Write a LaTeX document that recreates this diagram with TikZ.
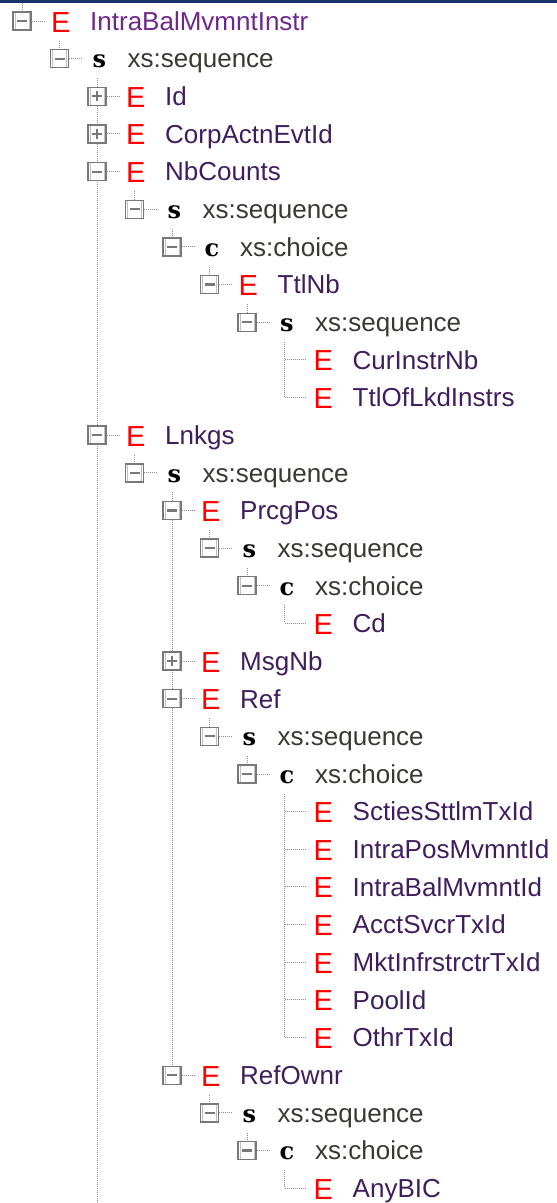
\documentclass[tikz,border=0pt]{standalone}
\usepackage{fontspec}
\setmainfont{Liberation Sans}
\newfontfamily\grpfont{DejaVu Serif}
\usetikzlibrary{calc,backgrounds}
\definecolor{elname}{RGB}{62,30,92}
\definecolor{rootname}{RGB}{110,40,140}
\definecolor{grpname}{RGB}{58,56,52}
\definecolor{boxgray}{RGB}{120,120,120}
\definecolor{dotgray}{RGB}{140,140,140}
\definecolor{topbar}{RGB}{30,50,110}
\tikzstyle{xbox}=[rectangle, draw=boxgray, line width=1.4pt, fill=white, minimum size=18pt, inner sep=0pt]
\tikzstyle{xminus}=[xbox, path picture={
  \draw[boxgray!45, line width=1pt] ([shift={(2,-2)}]path picture bounding box.north west) rectangle ([shift={(-2,2)}]path picture bounding box.south east);
  \draw[line width=2.2pt] (path picture bounding box.center) +(-5,0) -- +(5,0);}]
\tikzstyle{xplus}=[xbox, path picture={
  \draw[boxgray!45, line width=1pt] ([shift={(2,-2)}]path picture bounding box.north west) rectangle ([shift={(-2,2)}]path picture bounding box.south east);
  \draw[line width=2.2pt] (path picture bounding box.center) +(-5,0) -- +(5,0)
 (path picture bounding box.center) +(0,-5) -- +(0,5);}]
\tikzstyle{xleaf}=[rectangle, inner sep=0pt, minimum size=0pt]
\tikzstyle{ebadge}=[anchor=base west, inner sep=0pt, text=red, font=\fontsize{29}{29}\selectfont]
\tikzstyle{gbadge}=[anchor=base, inner sep=0pt, font=\grpfont\bfseries\fontsize{24}{24}\selectfont]
\tikzstyle{elabel}=[anchor=base west, inner sep=0pt, text=elname, font=\fontsize{26}{26}\selectfont]
\tikzstyle{rlabel}=[elabel, text=rootname]
\tikzstyle{glabel}=[elabel, text=grpname]
\tikzstyle{tline}=[draw=dotgray, line width=1pt, dash pattern=on 1pt off 1pt]
% element row: [label style] name, level, row, box style, label
\newcommand\elrow[6][elabel]{
            \node (#2) [#5] at ({22+37.5*#3},{21+37.65*#4}) {};
            \node (#2k) [ebadge] at ($(#2.center)+(29,11)$) {E};
            \node (#2t) [#1] at ($(#2.center)+(68,9.3)$) {#6};
            \draw[tline] (#2.east) -- ($(#2.center)+(22,0)$);
        }
% group row: name, level, row, letter, label
\newcommand\grprow[5]{
            \node (#1) [xminus] at ({22+37.5*#2},{21+37.65*#3}) {};
            \node (#1k) [gbadge] at ($(#1.center)+(40,9.3)$) {#4};
            \node (#1t) [glabel] at ($(#1.center)+(68,9.3)$) {#5};
            \draw[tline] (#1.east) -- ($(#1.center)+(22,0)$);
        }
\begin{document}
\begin{tikzpicture}[x=1pt, y=-1pt]

    \useasboundingbox (0,0) rectangle (557,1203);
    \fill[topbar] (0,0) rectangle (557,2.5);
    \coordinate (btm) at (0,1203);

    \elrow[rlabel]{root}{0}{0}{xminus}{IntraBalMvmntInstr}
    \grprow{rseq}{1}{1}{s}{xs:sequence}
    \elrow{id}{2}{2}{xplus}{Id}
    \elrow{corp}{2}{3}{xplus}{CorpActnEvtId}
    \elrow{nbc}{2}{4}{xminus}{NbCounts}
    \grprow{nbcseq}{3}{5}{s}{xs:sequence}
    \grprow{nbcch}{4}{6}{c}{xs:choice}
    \elrow{ttlnb}{5}{7}{xminus}{TtlNb}
    \grprow{ttlseq}{6}{8}{s}{xs:sequence}
    \elrow{curnb}{7}{9}{xleaf}{CurInstrNb}
    \elrow{ttlof}{7}{10}{xleaf}{TtlOfLkdInstrs}

% Lnkgs
    \elrow{lnk}{2}{11}{xminus}{Lnkgs}
    \grprow{lnkseq}{3}{12}{s}{xs:sequence}
    \elrow{prcg}{4}{13}{xminus}{PrcgPos}
    \grprow{prcgseq}{5}{14}{s}{xs:sequence}
    \grprow{prcgch}{6}{15}{c}{xs:choice}
    \elrow{cd}{7}{16}{xleaf}{Cd}
    \elrow{msgnb}{4}{17}{xplus}{MsgNb}
    \elrow{ref}{4}{18}{xminus}{Ref}
    \grprow{refseq}{5}{19}{s}{xs:sequence}
    \grprow{refch}{6}{20}{c}{xs:choice}
    \elrow{scties}{7}{21}{xleaf}{SctiesSttlmTxId}
    \elrow{intrapos}{7}{22}{xleaf}{IntraPosMvmntId}
    \elrow{intrabal}{7}{23}{xleaf}{IntraBalMvmntId}
    \elrow{acct}{7}{24}{xleaf}{AcctSvcrTxId}
    \elrow{mkt}{7}{25}{xleaf}{MktInfrstrctrTxId}
    \elrow{pool}{7}{26}{xleaf}{PoolId}
    \elrow{othr}{7}{27}{xleaf}{OthrTxId}
    \elrow{own}{4}{28}{xminus}{RefOwnr}
    \grprow{ownseq}{5}{29}{s}{xs:sequence}
    \grprow{ownch}{6}{30}{c}{xs:choice}
    \elrow{anybic}{7}{31}{xleaf}{AnyBIC}

%tree lines, behind the boxes
  \begin{scope}[on background layer]
   \draw[tline] ($(root.center)+(0,-18)$) -- (root.center);
   \draw[tline] ($(rseq.center)+(0,-18)$) -- (rseq.center);
   \draw[tline] ($(id.center)+(0,-18)$) -- (id.center |- btm);
   \draw[tline] ($(nbcseq.center)+(0,-18)$) -- (nbcseq.center);
   \draw[tline] ($(nbcch.center)+(0,-18)$) -- (nbcch.center);
   \draw[tline] ($(ttlnb.center)+(0,-18)$) -- (ttlnb.center);
   \draw[tline] ($(ttlseq.center)+(0,-18)$) -- (ttlseq.center);
   \draw[tline] ($(curnb.center)+(0,-18)$) -- (ttlof.center);
   \draw[tline] ($(lnkseq.center)+(0,-18)$) -- (lnkseq.center);
   \draw[tline] ($(prcg.center)+(0,-18)$) -- (own.center);
   \draw[tline] ($(prcgseq.center)+(0,-18)$) -- (prcgseq.center);
   \draw[tline] ($(prcgch.center)+(0,-18)$) -- (prcgch.center);
   \draw[tline] ($(cd.center)+(0,-18)$) -- (cd.center);
   \draw[tline] ($(refseq.center)+(0,-18)$) -- (refseq.center);
   \draw[tline] ($(refch.center)+(0,-18)$) -- (refch.center);
   \draw[tline] ($(scties.center)+(0,-18)$) -- (othr.center);
   \draw[tline] ($(ownseq.center)+(0,-18)$) -- (ownseq.center);
   \draw[tline] ($(ownch.center)+(0,-18)$) -- (ownch.center);
   \draw[tline] ($(anybic.center)+(0,-18)$) -- (anybic.center);
  \end{scope}

\end{tikzpicture}
\end{document}
